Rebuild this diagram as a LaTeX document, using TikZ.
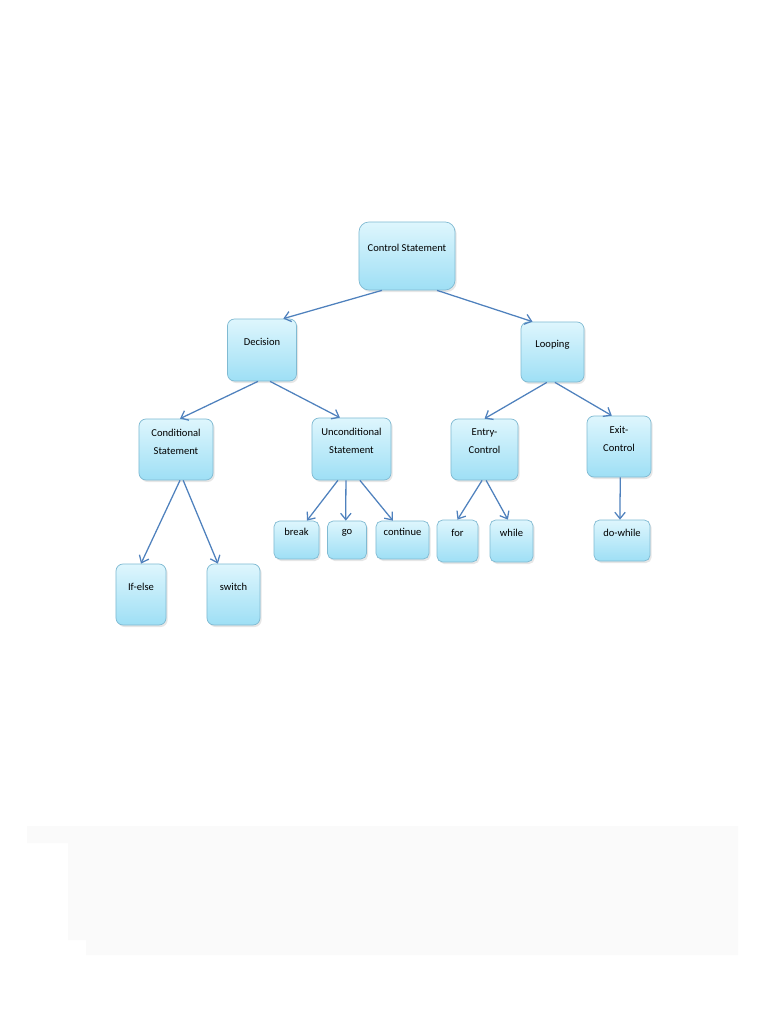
\documentclass[tikz,border=0pt]{standalone}
\usepackage{fontspec}
\setmainfont{Carlito}
\usepackage{xcolor}
\usepackage{tikz}
\usetikzlibrary{arrows.meta,positioning,calc,shadows}

\definecolor{boxtop}{RGB}{222,246,253}
\definecolor{boxbot}{RGB}{158,223,245}
\definecolor{boxline}{RGB}{128,186,210}
\definecolor{linkblue}{RGB}{79,129,189}
\definecolor{pagegray}{RGB}{250,250,250}

\begin{document}
\begin{tikzpicture}[
    x=0.025cm, y=-0.025cm,
    box/.style={draw=boxline, line width=0.5pt, rounded corners=5pt, top color=boxtop, bottom color=boxbot,
        align=center, font=\fontsize{7.5}{12.8}\selectfont, inner sep=2pt, text depth=0.4cm,
        drop shadow={shadow xshift=0.4mm, shadow yshift=-0.5mm, opacity=0.2}},
    smallbox/.style={box, rounded corners=4pt},
    arrow/.style={-{Straight Barb[length=1.6mm,width=2.6mm]}, draw=linkblue, line width=0.9pt}
]
\useasboundingbox (0,0) rectangle (768,1024);

% --- faint scan patch at the foot of the page ---
\fill[pagegray] (27,826) -- (738,826) -- (738,955) -- (86,955) -- (86,940) -- (68,940) -- (68,843) -- (27,843) -- cycle;

% --- root and first level ---
\node[box, rounded corners=7pt, minimum width=2.4cm, minimum height=1.7cm] (ctrl) at (407,256) {Control Statement};
\node[box, minimum width=1.725cm, minimum height=1.55cm] (dec) at (262,350) {Decision};
\node[box, minimum width=1.575cm, minimum height=1.5cm] (loop) at (552.5,352) {Looping};

% --- second level ---
\node[box, minimum width=1.85cm, minimum height=1.525cm] (cond) at (176,449.5) {Conditional\\Statement};
\node[box, minimum width=1.975cm, minimum height=1.55cm] (uncond) at (351.5,449) {Unconditional\\Statement};
\node[box, minimum width=1.675cm, minimum height=1.525cm] (entry) at (484.5,449.5) {Entry-\\Control};
\node[box, minimum width=1.6cm, minimum height=1.525cm] (exit) at (619,446.5) {Exit-\\Control};

% --- leaves ---
\node[box, minimum width=1.25cm, minimum height=1.525cm] (ifelse) at (141,594.5) {If-else};
\node[box, minimum width=1.325cm, minimum height=1.525cm] (switch) at (233.5,594.5) {switch};
\node[smallbox, minimum width=1.125cm, minimum height=0.95cm] (brk) at (296.5,540) {break};
\node[smallbox, minimum width=0.975cm, minimum height=0.95cm] (go) at (347,540) {go};
\node[smallbox, minimum width=1.325cm, minimum height=0.95cm] (cont) at (402.5,540) {continue};
\node[smallbox, minimum width=1.025cm, minimum height=1.05cm] (for) at (457.5,541) {for};
\node[smallbox, minimum width=1.075cm, minimum height=1.05cm] (while) at (511.5,541) {while};
\node[smallbox, minimum width=1.4cm, minimum height=1.025cm] (dowhile) at (622,540.5) {do-while};

% --- links ---
\draw[arrow] ([xshift=-0.625cm]ctrl.south) -- ([xshift=-0.34cm]dec.north east);
\draw[arrow] ([xshift=0.75cm]ctrl.south) -- ([xshift=-0.5cm]loop.north);
\draw[arrow] ([xshift=-0.1cm]dec.south) -- ([xshift=0.1cm]cond.north);
\draw[arrow] ([xshift=0.2cm]dec.south) -- ([xshift=-0.29cm]uncond.north);
\draw[arrow] ([xshift=-0.14cm]loop.south) -- (entry.north);
\draw[arrow] ([xshift=0.06cm]loop.south) -- ([xshift=-0.18cm]exit.north);
\draw[arrow] ([xshift=0.1cm]cond.south) -- (ifelse.north);
\draw[arrow] ([xshift=0.18cm]cond.south) -- ([xshift=-0.39cm]switch.north);
\draw[arrow] ([xshift=-0.34cm]uncond.south) -- ([xshift=0.26cm]brk.north);
\draw[arrow] ([xshift=-0.14cm]uncond.south) -- ([xshift=-0.03cm]go.north);
\draw[arrow] ([xshift=0.21cm]uncond.south) -- ([xshift=-0.24cm]cont.north);
\draw[arrow] ([xshift=-0.06cm]entry.south) -- (for.north);
\draw[arrow] ([xshift=0.04cm]entry.south) -- ([xshift=-0.09cm]while.north);
\draw[arrow] ([xshift=0.03cm]exit.south) -- ([xshift=-0.05cm]dowhile.north);

\end{tikzpicture}
\end{document}
